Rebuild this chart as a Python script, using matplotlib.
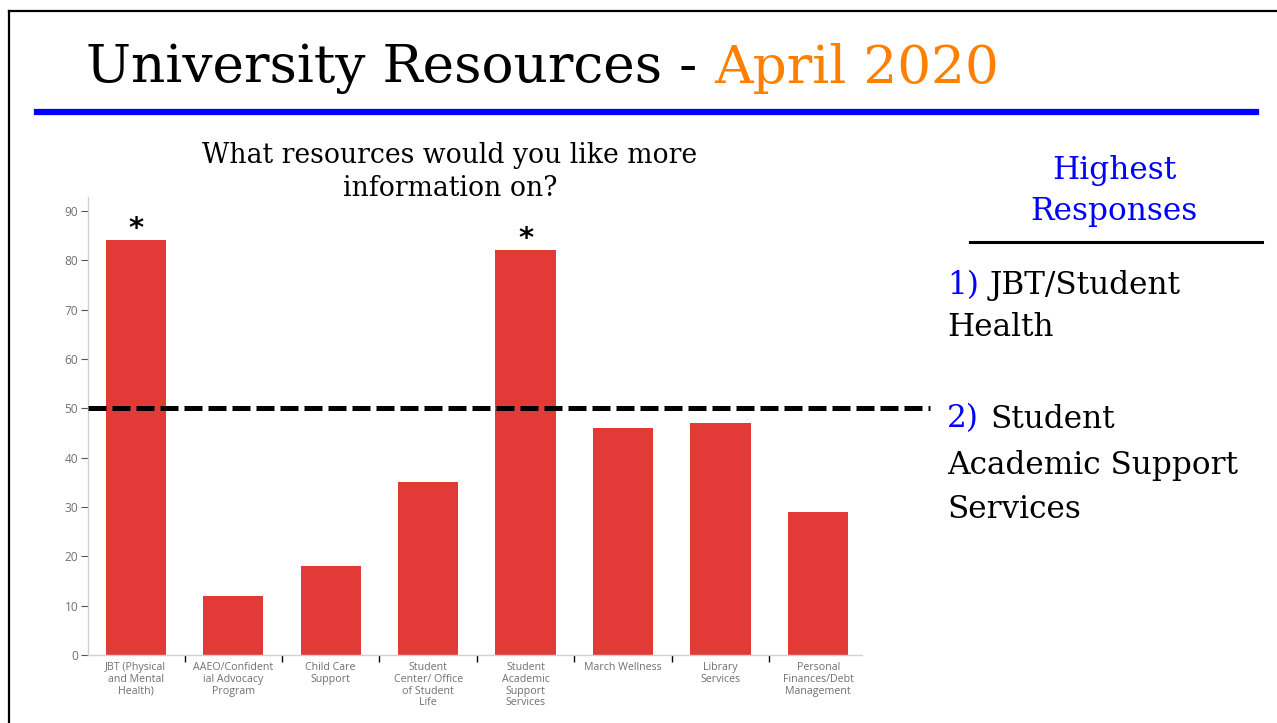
import matplotlib
matplotlib.use('Agg')
import matplotlib.pyplot as plt
import matplotlib.transforms as mtransforms
from matplotlib.lines import Line2D
import numpy as np

W, H = 1277, 723

categories = ["JBT (Physical\nand Mental\nHealth)",
              "AAEO/Confident\nial Advocacy\nProgram",
              "Child Care\nSupport",
              "Student\nCenter/ Office\nof Student\nLife",
              "Student\nAcademic\nSupport\nServices",
              "March Wellness",
              "Library\nServices",
              "Personal\nFinances/Debt\nManagement"]
counts = [84, 12, 18, 35, 82, 46, 47, 29]
starred = [0, 4]
threshold = 50
yticks = [0, 10, 20, 30, 40, 50, 60, 70, 80, 90]

SERIF = ['DejaVu Serif']
SANS = ['Open Sans', 'DejaVu Sans']
BAR_RED = '#e23b37'
GREY = '#707070'


def fx(x):
    return x / W


def fy(y):
    return 1 - y / H


fig = plt.figure(figsize=(W / 100, H / 100), dpi=100)
fig.patch.set_facecolor('white')

# slide frame (top and left edges visible)
fig.add_artist(Line2D([fx(9), fx(1300)], [fy(11), fy(11)], color='black', lw=1.6))
fig.add_artist(Line2D([fx(9), fx(9)], [fy(11), fy(760)], color='black', lw=1.6))

# slide heading
t1 = fig.text(fx(86), fy(68), "University Resources - ", family=SERIF, fontsize=38.4,
              va='center', ha='left', color='black')
fig.canvas.draw()
bb = t1.get_window_extent()
fig.text(bb.x1 / W, fy(68), "April 2020", family=SERIF, fontsize=38.4,
         va='center', ha='left', color='#ff8000')
fig.add_artist(Line2D([fx(37), fx(1256)], [fy(112), fy(112)], color='#0000ff', lw=4.5))

# bar chart
ax = fig.add_axes([fx(88), fy(655), fx(862 - 88), (655 - 197) / H])
x = np.arange(len(categories))
ax.bar(x, counts, width=0.62, color=BAR_RED, zorder=2)
ax.set_xlim(-0.49, len(categories) - 0.55)
ax.set_ylim(0, 92.8)

for sp in ['top', 'right']:
    ax.spines[sp].set_visible(False)
for sp in ['left', 'bottom']:
    ax.spines[sp].set_color('#d0d0d0')
    ax.spines[sp].set_linewidth(1.0)

ax.set_yticks(yticks)
ax.tick_params(axis='y', colors='#555555', labelcolor=GREY, length=5, width=0.8,
               labelsize=8.6, pad=2)
for lab in ax.get_yticklabels():
    lab.set_family(SANS)

ax.set_xticks(x)
ax.set_xticklabels(categories, family=SANS, fontsize=7.7, color=GREY, linespacing=1.1)
ax.tick_params(axis='x', which='major', length=0, pad=5)
ax.set_xticks(x[:-1] + 0.5, minor=True)
ax.tick_params(axis='x', which='minor', length=5, width=1.0, color='black')

for i in starred:
    ax.text(x[i], counts[i] + 2.3, "*", ha='center', va='center', fontsize=21,
            fontweight='bold', color='black', family=['DejaVu Sans'])

# 50-response cut-off line, running past the plot area to the right
trans = mtransforms.blended_transform_factory(fig.transFigure, ax.transData)
ax.plot([fx(88), fx(930)], [threshold, threshold], transform=trans, clip_on=False,
        color='black', lw=3.6, linestyle=(0, (3.6, 1.2)), zorder=5)

fig.text(fx(450), fy(172), "What resources would you like more\ninformation on?",
         family=SERIF, fontsize=19.2, ha='center', va='center', linespacing=1.3)

# side panel
fig.text(fx(1114), fy(191), "Highest\nResponses", family=SERIF, fontsize=22.5,
         color='#0000ff', ha='center', va='center', linespacing=1.38)
fig.add_artist(Line2D([fx(970), fx(1262)], [fy(242), fy(242)], color='black', lw=2.2))

PS = 22.4
fig.text(fx(947), fy(286), "1)", family=SERIF, fontsize=PS, color='#0000ff',
         ha='left', va='center')
fig.text(fx(990), fy(286), "JBT/Student", family=SERIF, fontsize=PS, color='black',
         ha='left', va='center')
fig.text(fx(947), fy(328), "Health", family=SERIF, fontsize=PS, color='black',
         ha='left', va='center')

fig.text(fx(947), fy(419), "2)", family=SERIF, fontsize=PS, color='#0000ff',
         ha='left', va='center')
fig.text(fx(990), fy(419), "Student", family=SERIF, fontsize=PS, color='black',
         ha='left', va='center')
fig.text(fx(947), fy(465), "Academic Support", family=SERIF, fontsize=PS, color='black',
         ha='left', va='center')
fig.text(fx(947), fy(509), "Services", family=SERIF, fontsize=PS, color='black',
         ha='left', va='center')

fig.savefig("out.png", dpi=100)
